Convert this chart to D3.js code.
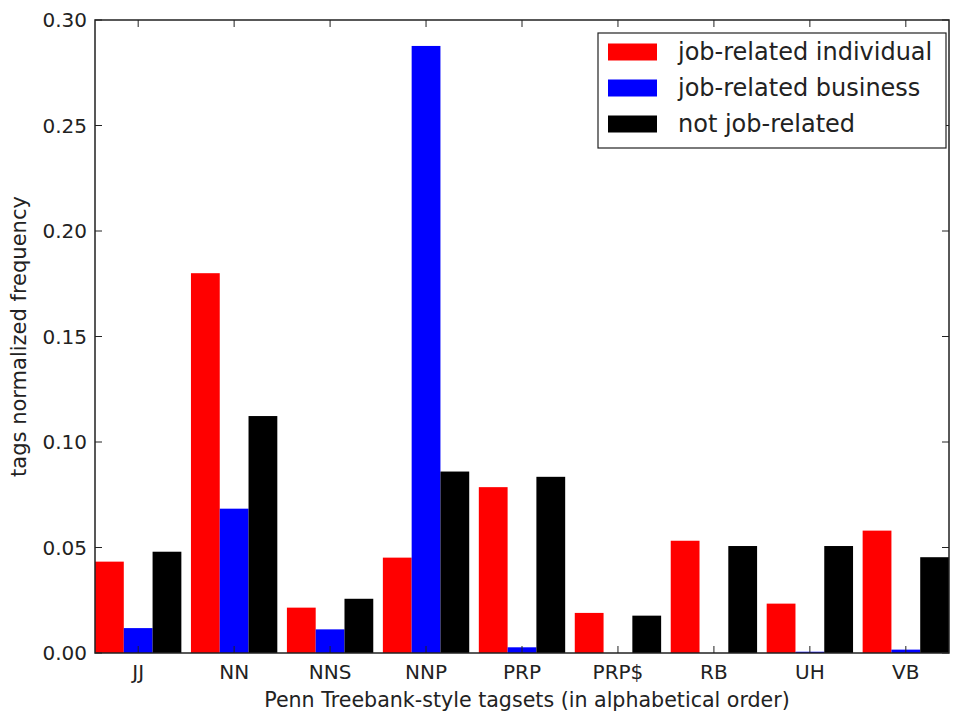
<!DOCTYPE html>
<html>
<head>
<meta charset="utf-8">
<script src="https://cdn.jsdelivr.net/npm/d3@7"></script>
<style>
  html, body { margin: 0; padding: 0; background: #fff; }
  svg text { font-family: "DejaVu Sans", sans-serif; fill: #222; }
</style>
</head>
<body>
<svg id="chart" width="954" height="715"></svg>
<script>
// Penn Treebank tag frequencies per tweet class
const categories = ["JJ", "NN", "NNS", "NNP", "PRP", "PRP$", "RB", "UH", "VB"];
const seriesNames = ["job-related individual", "job-related business", "not job-related"];
const seriesColors = ["#ff0000", "#0000ff", "#000000"];
const individual = [0.0433, 0.1800, 0.0215, 0.0452, 0.0786, 0.0190, 0.0532, 0.0234, 0.0580];
const business   = [0.0118, 0.0684, 0.0112, 0.2877, 0.0027, 0.0000, 0.0000, 0.0006, 0.0016];
const notJob     = [0.0480, 0.1123, 0.0257, 0.0860, 0.0835, 0.0177, 0.0507, 0.0507, 0.0454];
const yTicks = [0.00, 0.05, 0.10, 0.15, 0.20, 0.25, 0.30];
const series = [individual, business, notJob];

const svg = d3.select("#chart");
const plotLeft = 95, plotRight = 949, plotTop = 20, plotBottom = 653;
const barW = 0.3;

const x = d3.scaleLinear().domain([-0.45, categories.length - 1 + 0.45]).range([plotLeft, plotRight]);
const y = d3.scaleLinear().domain([0, 0.30]).range([plotBottom, plotTop]);

// bars
series.forEach((vals, s) => {
  svg.append("g").selectAll("rect").data(vals).join("rect")
    .attr("x", (d, i) => x(i - 0.45 + s * barW))
    .attr("width", x(barW) - x(0))
    .attr("y", d => y(d))
    .attr("height", d => y(0) - y(d))
    .attr("fill", seriesColors[s]);
});

const tickLen = 7;
const axisColor = "#222";

// frame
svg.append("rect").attr("x", plotLeft).attr("y", plotTop)
  .attr("width", plotRight - plotLeft).attr("height", plotBottom - plotTop)
  .attr("fill", "none").attr("stroke", axisColor).attr("stroke-width", 1.5);

// x ticks (bottom and top, pointing inward)
const xt = svg.append("g");
categories.forEach((c, i) => {
  const px = x(i);
  xt.append("line").attr("x1", px).attr("x2", px).attr("y1", plotBottom).attr("y2", plotBottom - tickLen)
    .attr("stroke", axisColor).attr("stroke-width", 1);
  xt.append("line").attr("x1", px).attr("x2", px).attr("y1", plotTop).attr("y2", plotTop + tickLen)
    .attr("stroke", axisColor).attr("stroke-width", 1);
  xt.append("text").attr("x", px).attr("y", plotBottom + 26)
    .attr("text-anchor", "middle").attr("font-size", 20).text(c);
});

// y ticks (left and right, pointing inward)
const yt = svg.append("g");
yTicks.forEach(t => {
  const py = y(t);
  yt.append("line").attr("x1", plotLeft).attr("x2", plotLeft + tickLen).attr("y1", py).attr("y2", py)
    .attr("stroke", axisColor).attr("stroke-width", 1);
  yt.append("line").attr("x1", plotRight).attr("x2", plotRight - tickLen).attr("y1", py).attr("y2", py)
    .attr("stroke", axisColor).attr("stroke-width", 1);
  yt.append("text").attr("x", plotLeft - 8).attr("y", py).attr("dy", "0.35em")
    .attr("text-anchor", "end").attr("font-size", 20).text(d3.format(".2f")(t));
});

// axis titles
svg.append("text").attr("x", (plotLeft + plotRight) / 2 + 5).attr("y", 707)
  .attr("text-anchor", "middle").attr("font-size", 20.6)
  .text("Penn Treebank-style tagsets (in alphabetical order)");
svg.append("text")
  .attr("transform", `translate(26,${(plotTop + plotBottom) / 2}) rotate(-90)`)
  .attr("text-anchor", "middle").attr("font-size", 21)
  .text("tags normalized frequency");

// legend
const lg = svg.append("g");
lg.append("rect").attr("x", 598).attr("y", 33).attr("width", 348).attr("height", 115)
  .attr("fill", "#fff").attr("stroke", axisColor).attr("stroke-width", 1.2);
seriesNames.forEach((name, s) => {
  const cy = 52 + s * 36;
  lg.append("rect").attr("x", 608).attr("y", cy - 8.5).attr("width", 49).attr("height", 17)
    .attr("fill", seriesColors[s]);
  lg.append("text").attr("x", 678).attr("y", cy).attr("dy", "0.35em")
    .attr("font-size", 24).text(name);
});
</script>
</body>
</html>
